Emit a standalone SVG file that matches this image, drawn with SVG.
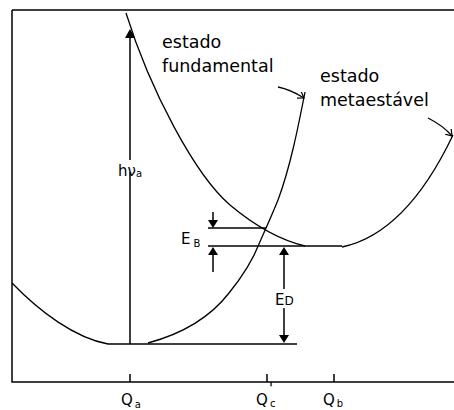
<svg xmlns="http://www.w3.org/2000/svg" width="454" height="410" viewBox="0 0 454 410">
<defs>
<style>
.ln{stroke:#000;stroke-width:1.5;fill:none}
.cv{stroke:#000;stroke-width:1.3;fill:none}
.ah{fill:#000;stroke:none}
.lbl{font-family:"DejaVu Sans","Liberation Sans",sans-serif;font-size:17.5px;fill:#000}
.sym{font-family:"DejaVu Sans","Liberation Sans",sans-serif;font-size:15px;fill:#000}
.sub{font-family:"DejaVu Sans","Liberation Sans",sans-serif;font-size:10px;fill:#000}
</style>
<marker id="ptr" markerWidth="8" markerHeight="8" refX="6" refY="4" orient="auto" markerUnits="userSpaceOnUse">
<path d="M0,0 L6,4 L0,8" fill="none" stroke="#000" stroke-width="1.2"/>
</marker>
</defs>
<rect width="454" height="410" fill="#fff"/>
<g id="frame">
<path class="ln" d="M12,10 H454 M12,10 V382 H454" stroke-width="2"/>
<path class="ln" d="M130,374 V382 M267,374 V382 M334,374 V382"/>
</g>
<g id="curves">
<path id="ground-left" class="cv" d="M12,283 C40,312 75,338 108,344"/>
<path id="ground-right" class="cv" d="M148,343 C185,333 212,315 229,293 C242,277 252,262 259,244 C266,228 272,215 278,200 C290,168 298,128 305,92"/>
<path id="meta-left" class="cv" d="M126,13 C150,90 195,175 230,205 C255,226 280,240 305,246"/>
<path id="meta-right" class="cv" d="M342,247 C385,238 422,200 453,135"/>
<path id="ptr-fund" class="cv" d="M278,87 C288,89 296,93 304,98" marker-end="url(#ptr)"/>
<path id="ptr-meta" class="cv" d="M428,118 C438,123 446,129 452,136" marker-end="url(#ptr)"/>
</g>
<g id="connectors">
<path class="ln" d="M108,344 H297"/>
<path class="ln" d="M208,228 H266"/>
<path class="ln" d="M208,246 H342"/>
<path class="ln" d="M130,344 V172 M130,160 V36"/>
<path class="ah" d="M130,29 L125,38 L135,38 Z"/>
<path class="ln" d="M213,212 V222"/>
<path class="ah" d="M213,228 L208,220 L218,220 Z"/>
<path class="ln" d="M213,254 V272"/>
<path class="ah" d="M213,247 L208,255 L218,255 Z"/>
<path class="ln" d="M284,254 V289 M284,308 V336"/>
<path class="ah" d="M284,247 L279,255 L289,255 Z"/>
<path class="ah" d="M284,343 L279,335 L289,335 Z"/>
</g>
<g id="labels">
<text class="lbl" x="162" y="48">estado</text>
<text class="lbl" x="162" y="72">fundamental</text>
<text class="lbl" x="320" y="82">estado</text>
<text class="lbl" x="320" y="106">metaestável</text>
<text class="sym" x="118" y="176">h<tspan>ν</tspan><tspan class="sub" dy="1">a</tspan></text>
<text class="sym" x="181" y="244">E<tspan class="sub" dx="3" dy="3">B</tspan></text>
<text class="sym" x="275" y="305">E<tspan font-size="12">D</tspan></text>
<text class="sym" x="121" y="405">Q<tspan class="sub" dx="2" dy="3">a</tspan></text>
<text class="sym" x="256" y="405">Q</text>
<text class="sym" x="269" y="394" font-size="14">'</text>
<text class="sub" x="270" y="407">c</text>
<text class="sym" x="323" y="405">Q<tspan class="sub" dx="2" dy="2">b</tspan></text>
</g>
</svg>
